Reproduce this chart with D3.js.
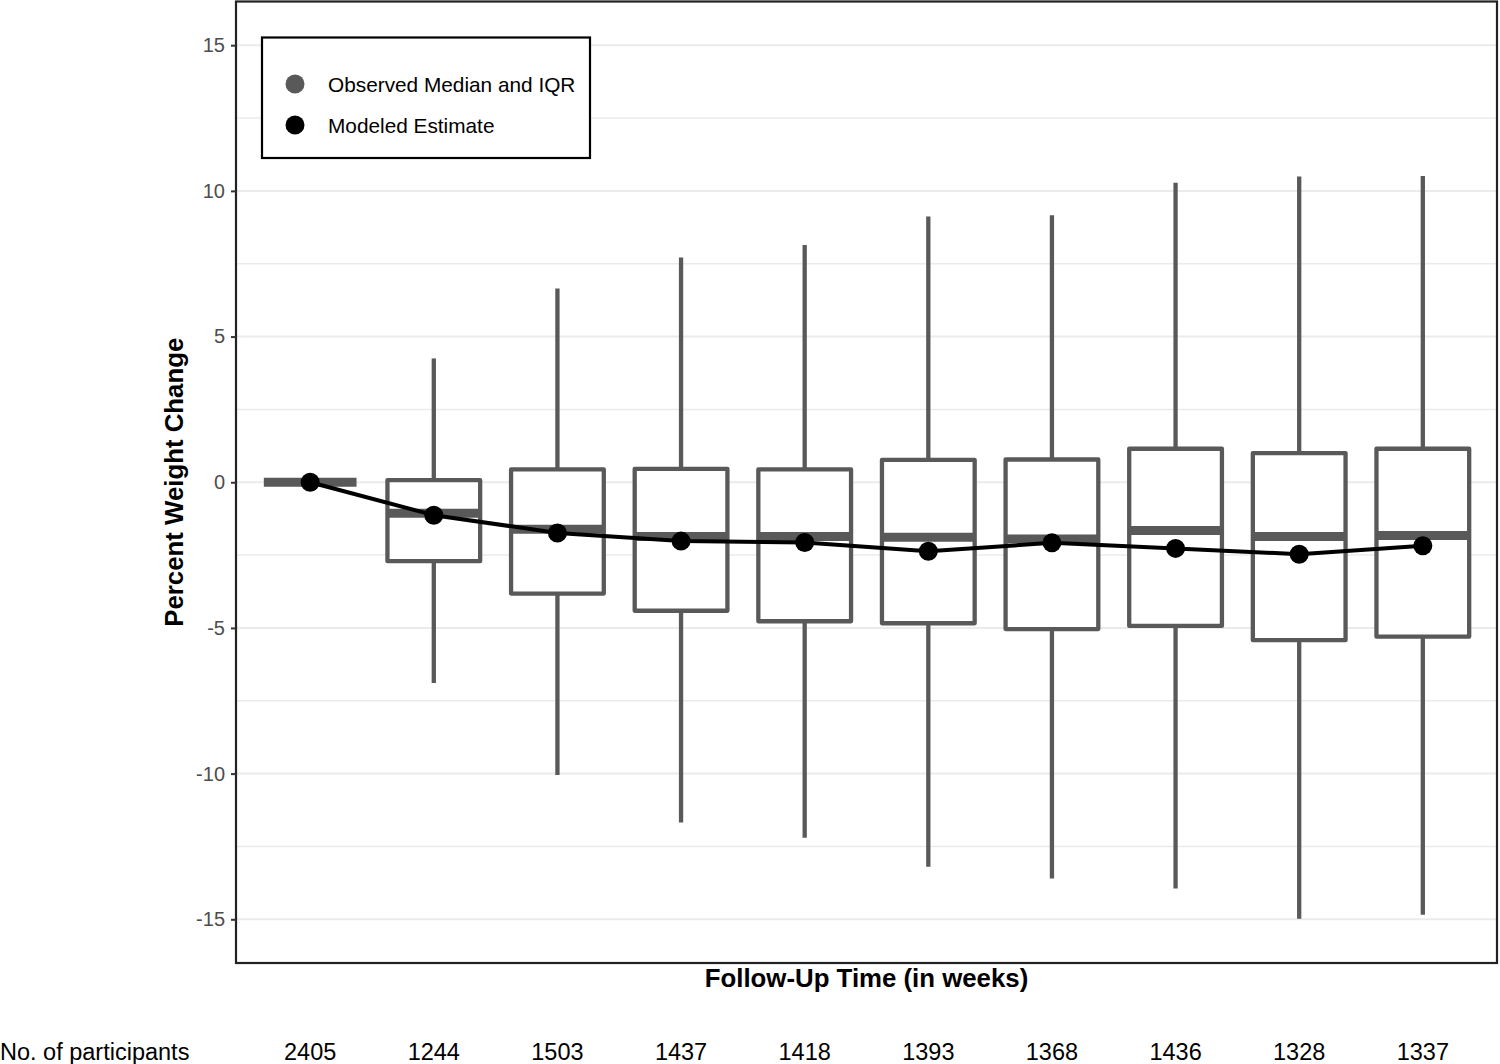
<!DOCTYPE html>
<html>
<head>
<meta charset="utf-8">
<script src="https://cdn.jsdelivr.net/npm/d3@7"></script>
<style>
  html, body { margin: 0; padding: 0; background: #ffffff; }
  svg { display: block; }
  text { font-family: "Liberation Sans", Arial, sans-serif; }
</style>
</head>
<body>
<svg id="chart" width="1500" height="1064"></svg>
<script>
// ---- Data ----
const categories = ["T0", "T1", "T2", "T3", "T4", "T5", "T6", "T7", "T8", "T9"];
const whiskerLow  = [0, -6.89, -10.05, -11.68, -12.20, -13.20, -13.60, -13.94, -14.98, -14.84];
const q1Values    = [0, -2.71, -3.82, -4.41, -4.77, -4.84, -5.04, -4.93, -5.42, -5.30];
const medians     = [0, -1.06, -1.61, -1.86, -1.86, -1.89, -1.95, -1.66, -1.86, -1.83];
const q3Values    = [0, 0.07, 0.44, 0.46, 0.44, 0.77, 0.78, 1.15, 1.00, 1.15];
const whiskerHigh = [0, 4.25, 6.65, 7.71, 8.14, 9.12, 9.16, 10.28, 10.49, 10.51];
const modeled     = [0, -1.13, -1.74, -2.02, -2.07, -2.37, -2.08, -2.27, -2.47, -2.18];
const participants = [2405, 1244, 1503, 1437, 1418, 1393, 1368, 1436, 1328, 1337];
const yMajorTicks = [-15, -10, -5, 0, 5, 10, 15];
const yMinorTicks = [-12.5, -7.5, -2.5, 2.5, 7.5, 12.5];
const legendLabels = ["Observed Median and IQR", "Modeled Estimate"];

// ---- Layout ----
const panel = { left: 236, right: 1497, top: 1.5, bottom: 963 };
const boxColor = "#595959";

const svg = d3.select("#chart");

const x = d3.scalePoint().domain(categories).range([panel.left, panel.right]).padding(0.6);
const y = d3.scaleLinear().domain([-16.5, 16.5]).range([panel.bottom, panel.top]);
const boxW = x.step() * 0.75;

const rows = categories.map((c, i) => ({
  cat: c, lo: whiskerLow[i], q1: q1Values[i], med: medians[i], q3: q3Values[i],
  hi: whiskerHigh[i], est: modeled[i], n: participants[i]
}));

// gridlines
const grid = svg.append("g");
grid.selectAll("line.minor").data(yMinorTicks).join("line")
  .attr("class", "minor")
  .attr("x1", panel.left).attr("x2", panel.right)
  .attr("y1", d => y(d)).attr("y2", d => y(d))
  .attr("stroke", "#ebebeb").attr("stroke-width", 1.5);
grid.selectAll("line.major").data(yMajorTicks).join("line")
  .attr("class", "major")
  .attr("x1", panel.left).attr("x2", panel.right)
  .attr("y1", d => y(d)).attr("y2", d => y(d))
  .attr("stroke", "#ebebeb").attr("stroke-width", 2);

// boxes
const boxes = svg.append("g").selectAll("g").data(rows).join("g");
boxes.append("line")
  .attr("x1", d => x(d.cat)).attr("x2", d => x(d.cat))
  .attr("y1", d => y(d.q3)).attr("y2", d => y(d.hi))
  .attr("stroke", boxColor).attr("stroke-width", 4.3);
boxes.append("line")
  .attr("x1", d => x(d.cat)).attr("x2", d => x(d.cat))
  .attr("y1", d => y(d.q1)).attr("y2", d => y(d.lo))
  .attr("stroke", boxColor).attr("stroke-width", 4.3);
boxes.append("rect")
  .attr("x", d => x(d.cat) - boxW / 2)
  .attr("width", boxW)
  .attr("y", d => y(d.q3))
  .attr("height", d => y(d.q1) - y(d.q3))
  .attr("fill", "#ffffff")
  .attr("stroke", boxColor).attr("stroke-width", 4.3)
  .attr("stroke-linejoin", "round");
boxes.append("line")
  .attr("x1", d => x(d.cat) - boxW / 2).attr("x2", d => x(d.cat) + boxW / 2)
  .attr("y1", d => y(d.med)).attr("y2", d => y(d.med))
  .attr("stroke", boxColor).attr("stroke-width", 9);

// modeled line + points
const line = d3.line().x(d => x(d.cat)).y(d => y(d.est));
svg.append("path").datum(rows)
  .attr("d", line)
  .attr("fill", "none").attr("stroke", "#000").attr("stroke-width", 4)
  .attr("stroke-linejoin", "round");
svg.append("g").selectAll("circle").data(rows).join("circle")
  .attr("cx", d => x(d.cat)).attr("cy", d => y(d.est))
  .attr("r", 9.5).attr("fill", "#000");

// panel border
svg.append("rect")
  .attr("x", panel.left).attr("y", panel.top)
  .attr("width", panel.right - panel.left).attr("height", panel.bottom - panel.top)
  .attr("fill", "none").attr("stroke", "#222").attr("stroke-width", 2.2);

// y axis
const yAxis = d3.axisLeft(y).tickValues(yMajorTicks).tickSize(5).tickPadding(6).tickFormat(d => String(d));
const yg = svg.append("g").attr("transform", `translate(${panel.left},0)`).call(yAxis);
yg.select(".domain").remove();
yg.selectAll(".tick line").attr("stroke", "#333").attr("stroke-width", 2);
yg.selectAll(".tick text")
  .attr("fill", "#4d4d4d")
  .style("font-size", "20px")
  .style("font-family", "'Liberation Sans', Arial, sans-serif");

// axis titles
svg.append("text")
  .attr("transform", `translate(183, ${y(0)}) rotate(-90)`)
  .attr("text-anchor", "middle")
  .style("font-size", "25.8px").style("font-weight", "bold")
  .attr("fill", "#000")
  .text("Percent Weight Change");
svg.append("text")
  .attr("x", (panel.left + panel.right) / 2).attr("y", 987)
  .attr("text-anchor", "middle")
  .style("font-size", "25.8px").style("font-weight", "bold")
  .attr("fill", "#000")
  .text("Follow-Up Time (in weeks)");

// participants row
svg.append("text")
  .attr("x", 0).attr("y", 1060)
  .style("font-size", "23.5px").attr("fill", "#000")
  .text("No. of participants");
svg.append("g").selectAll("text").data(rows).join("text")
  .attr("x", d => x(d.cat)).attr("y", 1060)
  .attr("text-anchor", "middle")
  .style("font-size", "23.5px").attr("fill", "#000")
  .text(d => d.n);

// legend
const lg = svg.append("g");
lg.append("rect")
  .attr("x", 262).attr("y", 37.5).attr("width", 328).attr("height", 120.5)
  .attr("fill", "#fff").attr("stroke", "#000").attr("stroke-width", 2.2);
const legendColors = [boxColor, "#000"];
const legendY = [84, 125];
legendLabels.forEach((lab, i) => {
  lg.append("circle").attr("cx", 295).attr("cy", legendY[i]).attr("r", 9.5).attr("fill", legendColors[i]);
  lg.append("text").attr("x", 328).attr("y", legendY[i] + 7.5)
    .style("font-size", "20.8px").attr("fill", "#000").text(lab);
});
</script>
</body>
</html>
